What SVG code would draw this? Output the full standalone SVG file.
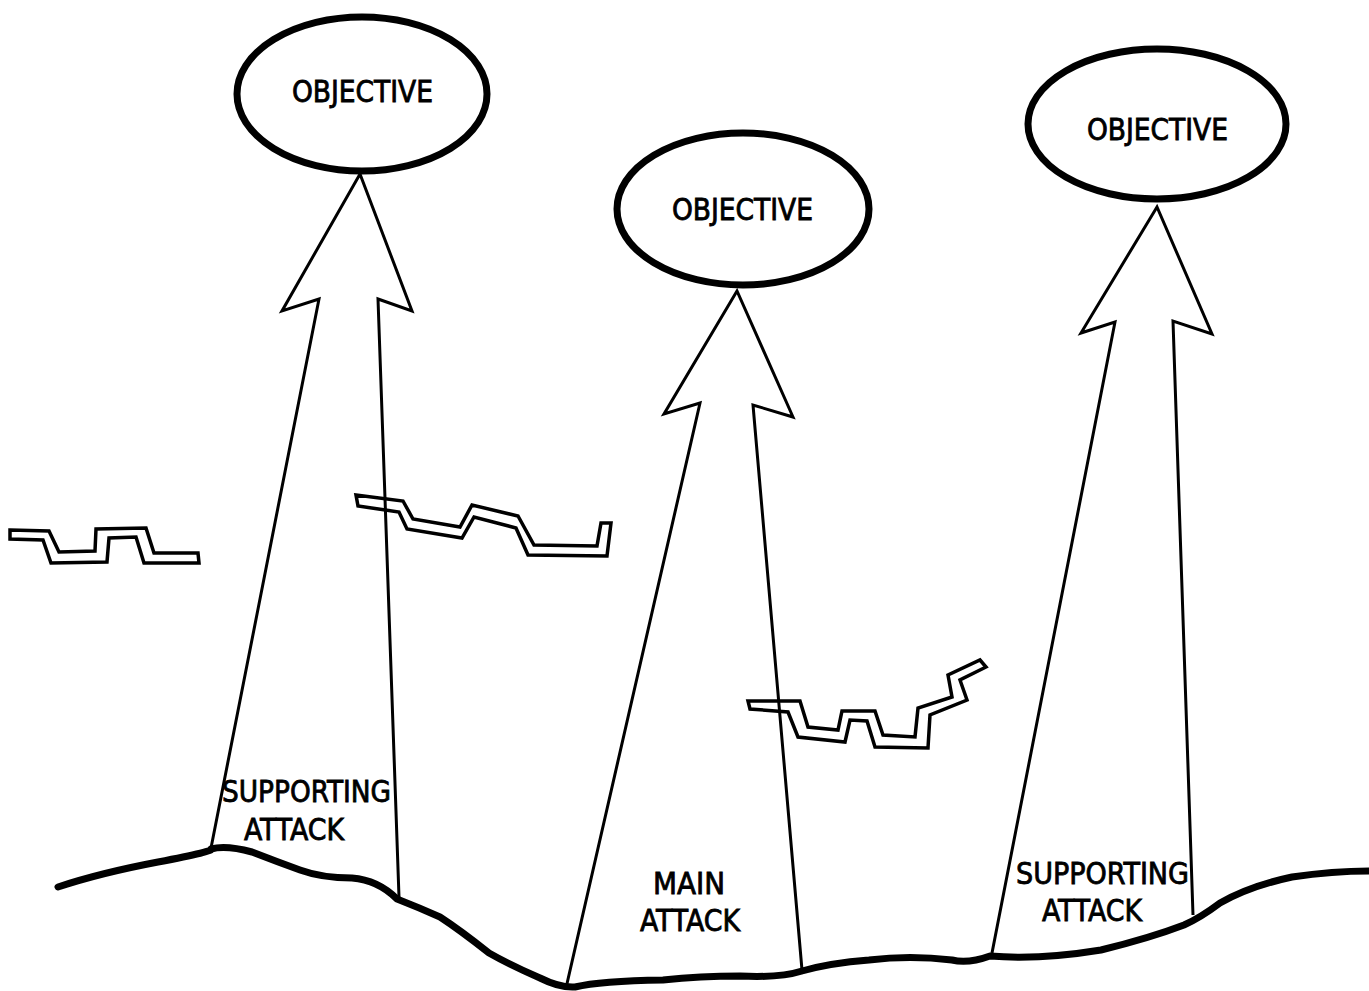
<svg xmlns="http://www.w3.org/2000/svg" width="1369" height="991" viewBox="0 0 1369 991">
  <style>
    .obj { fill: none; stroke: #000; stroke-width: 7; }
    .otxt { font-family: "Liberation Sans Narrow", "DejaVu Sans Condensed", "Liberation Sans", sans-serif; font-size: 30px; fill: #000; stroke: #000; stroke-width: 0.8; }
    .ltxt { font-family: "Liberation Sans Narrow", "DejaVu Sans Condensed", "Liberation Sans", sans-serif; font-size: 31px; fill: #000; stroke: #000; stroke-width: 0.8; }
    .arrow { fill: none; stroke: #000; stroke-width: 3; stroke-linejoin: miter; }
    .ground { fill: none; stroke: #000; stroke-width: 7; stroke-linejoin: round; stroke-linecap: round; }
    .trench { fill: none; stroke: #000; stroke-width: 3.5; stroke-linejoin: miter; }
  </style>
  <rect width="1369" height="991" fill="#fff"/>

  <g id="objective-1">
    <ellipse class="obj" cx="362" cy="94" rx="125" ry="77"/>
    <text class="otxt" x="292" y="102" textLength="141" lengthAdjust="spacingAndGlyphs">OBJECTIVE</text>
  </g>
  <g id="objective-2">
    <ellipse class="obj" cx="743" cy="209" rx="126" ry="76"/>
    <text class="otxt" x="672" y="220" textLength="141" lengthAdjust="spacingAndGlyphs">OBJECTIVE</text>
  </g>
  <g id="objective-3">
    <ellipse class="obj" cx="1157" cy="124" rx="129" ry="75"/>
    <text class="otxt" x="1087" y="140" textLength="141" lengthAdjust="spacingAndGlyphs">OBJECTIVE</text>
  </g>

  <g id="connectors">
    <path id="arrow-supporting-1" class="arrow" d="M211,848 L319,299 L282,311 L360,174 L412,311 L378,299 L399,897"/>
    <path id="arrow-main" class="arrow" d="M566,988 L700,403 L664,414 L737,291 L793,417 L753,405 L802,970"/>
    <path id="arrow-supporting-2" class="arrow" d="M992,953 L1115,322 L1081,333 L1157,207 L1212,334 L1173,321 L1193,915"/>
  </g>

  <g id="labels">
    <text class="ltxt" x="222" y="802" textLength="169" lengthAdjust="spacingAndGlyphs">SUPPORTING</text>
    <text class="ltxt" x="244" y="840" textLength="100" lengthAdjust="spacingAndGlyphs">ATTACK</text>
    <text class="ltxt" x="653" y="894" textLength="72" lengthAdjust="spacingAndGlyphs">MAIN</text>
    <text class="ltxt" x="640" y="931" textLength="100" lengthAdjust="spacingAndGlyphs">ATTACK</text>
    <text class="ltxt" x="1016" y="884" textLength="173" lengthAdjust="spacingAndGlyphs">SUPPORTING</text>
    <text class="ltxt" x="1042" y="921" textLength="100" lengthAdjust="spacingAndGlyphs">ATTACK</text>
  </g>

  <g id="trenches">
    <polygon class="trench" points="10,530 49,531 59,552 95,551 96,529 146,528 154,553 198,553 199,563 144,563 136,537 109,538 107,562 51,563 43,540 10,539"/>
    <polygon class="trench" points="356,495 403,501 413,519 460,527 472,505 518,516 534,545 597,546 601,523 611,523 607,556 528,555 516,528 474,517 462,538 407,529 399,512 358,506"/>
    <polygon class="trench" points="748,701 800,701 808,727 838,730 842,711 875,711 883,735 915,737 918,708 952,697 948,675 980,660 986,667 960,680 967,700 930,715 928,748 875,747 867,721 850,720 845,742 798,737 788,712 750,709"/>
  </g>

  <g id="ground">
    <path class="ground" d="M58,887 Q100,873 158,862 T211,849 Q226,845 252,852 Q275,861 300,870 Q322,878 352,878 Q378,880 397,899 Q420,908 440,917 Q460,930 489,953 Q510,965 540,978 Q560,988 575,987 Q600,981 663,980 Q700,976 740,976 Q780,978 802,971 Q830,963 869,960 Q910,955 952,960 Q968,964 990,956 Q1040,960 1101,950 Q1150,938 1184,925 Q1200,918 1220,903 Q1250,886 1292,877 Q1333,871 1369,871"/>
  </g>
</svg>
